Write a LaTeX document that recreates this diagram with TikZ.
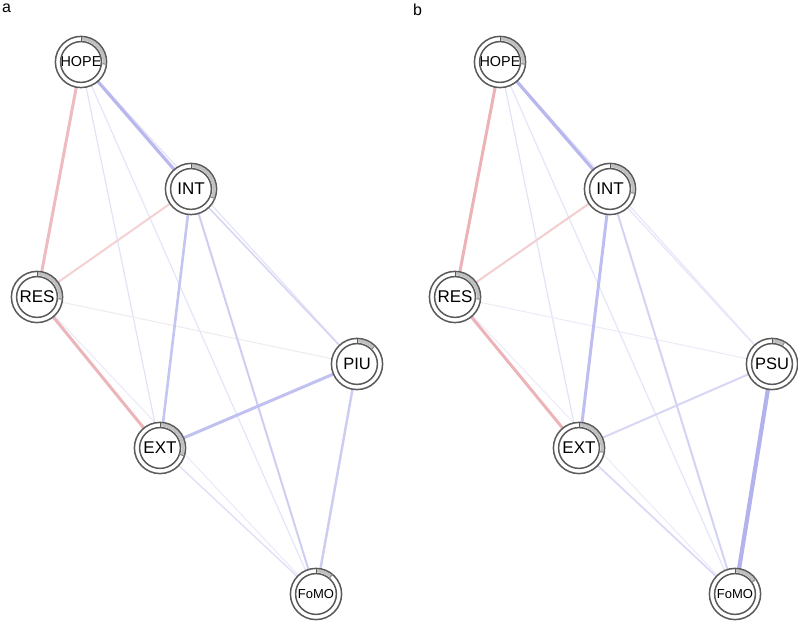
\documentclass[tikz,border=0pt]{standalone}
\usepackage{fontspec}
\setmainfont{Liberation Sans}
\usetikzlibrary{calc}
\pgfdeclarelayer{bg}
\pgfsetlayers{bg,main}
\definecolor{ringc}{RGB}{90,90,90}
\definecolor{piegray}{RGB}{192,192,192}
\tikzset{
  qn/.style={circle, minimum size=51pt, inner sep=0pt, fill=white, draw=none, text=black},
  edge/.style={line cap=round},
}
\newcommand{\pienode}[6]{%
  \node[qn, font=\fontsize{#6}{#6}\selectfont] (#1) at (#2,#3) {#4};
  \fill[piegray] ($(#1)+(90:24.6)$) arc[start angle=90, end angle=90-#5, radius=24.6pt]
     -- ($(#1)+(90-#5:21.6)$) arc[start angle=90-#5, end angle=90, radius=21.6pt] -- cycle;
  \draw[ringc, line width=1.5pt] (#1) circle[radius=25.6pt];
  \draw[ringc, line width=1.5pt] (#1) circle[radius=20.4pt];
  \draw[ringc, line width=1pt] ($(#1)+(90:20.4)$) -- ($(#1)+(90:25.6)$);
  \draw[ringc!70, line width=1pt] ($(#1)+(90-#5:20.4)$) -- ($(#1)+(90-#5:25.6)$);
}
\newcommand{\qedge}[4]{% from, to, RGB, width
  \definecolor{tmpc}{RGB}{#3}%
  \draw[edge, draw=tmpc!75!white, line width=#4pt] (#1) -- (#2);
}
\begin{document}
\begin{tikzpicture}[x=1pt,y=1pt]
\useasboundingbox (0,0) rectangle (798,621);
\node[anchor=north west, font=\fontsize{16}{16}\selectfont, inner sep=0pt] (la) at (2,617) {a};
\node[anchor=north west, font=\fontsize{16}{16}\selectfont, inner sep=0pt] (lb) at (413,617) {b};
% panel a
\pienode{ha}{81}{559}{HOPE}{95}{14.4}
\pienode{ia}{191}{432}{INT}{112}{17}
\pienode{ra}{37}{324}{RES}{95}{17}
\pienode{pa}{357}{257}{PIU}{45}{16.5}
\pienode{ea}{160}{173}{EXT}{108}{17}
\pienode{fa}{316}{27}{FoMO}{40}{13}
% panel b
\pienode{hb}{500}{559}{HOPE}{95}{14.4}
\pienode{ib}{610}{432}{INT}{100}{17}
\pienode{rb}{455}{324}{RES}{95}{17}
\pienode{pb}{772}{257}{PSU}{30}{16.5}
\pienode{eb}{579}{173}{EXT}{100}{17}
\pienode{fb}{735}{27}{FoMO}{55}{13}
\begin{pgfonlayer}{bg}
% panel a edges
\qedge{ha}{ea}{218,218,246}{1.2}
\qedge{ha}{pa}{218,218,246}{1.2}
\qedge{ha}{fa}{220,220,247}{1.2}
\qedge{ra}{pa}{236,228,234}{1.1}
\qedge{ra}{fa}{228,228,247}{1.1}
\qedge{ea}{fa}{212,212,245}{1.4}
\qedge{ia}{pa}{200,200,240}{1.6}
\qedge{ia}{fa}{190,190,238}{2}
\qedge{ia}{ra}{240,195,196}{2}
\qedge{pa}{fa}{188,188,238}{2.5}
\qedge{ia}{ea}{178,178,236}{2.6}
\qedge{ea}{pa}{172,172,235}{3}
\qedge{ra}{ea}{230,157,162}{3}
\qedge{ha}{ra}{232,165,170}{3}
\qedge{ha}{ia}{160,160,232}{3.2}
% panel b edges
\qedge{hb}{eb}{218,218,246}{1.2}
\qedge{hb}{pb}{222,222,247}{1.2}
\qedge{hb}{fb}{220,220,247}{1.2}
\qedge{rb}{pb}{230,230,246}{1.1}
\qedge{rb}{fb}{230,230,247}{1.1}
\qedge{ib}{pb}{222,222,248}{1.3}
\qedge{eb}{fb}{206,206,243}{1.8}
\qedge{eb}{pb}{202,202,242}{2}
\qedge{ib}{fb}{196,196,240}{2}
\qedge{ib}{rb}{238,190,192}{2}
\qedge{ib}{eb}{168,168,235}{3}
\qedge{rb}{eb}{230,155,160}{3}
\qedge{hb}{rb}{230,152,158}{3}
\qedge{hb}{ib}{160,160,232}{3.2}
\qedge{pb}{fb}{152,152,230}{4.2}
\end{pgfonlayer}
\end{tikzpicture}
\end{document}
